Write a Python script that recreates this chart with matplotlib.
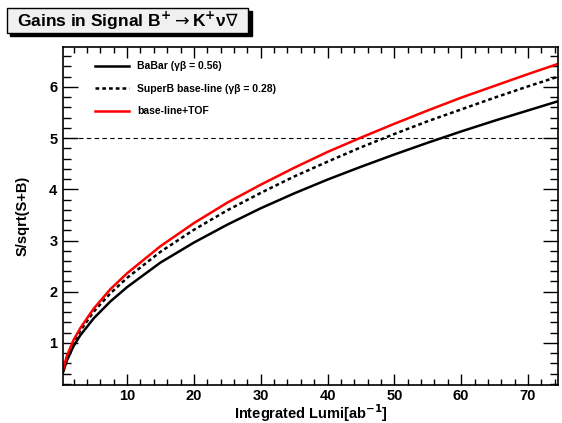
import matplotlib.pyplot as plt
from matplotlib.ticker import MultipleLocator
from matplotlib.patches import FancyBboxPatch

plt.rcParams['font.family'] = ['Liberation Sans', 'DejaVu Sans']

# Integrated luminosity points (ab^-1)
lumi = [0.4, 1, 2, 3, 5, 7.5, 10, 15, 20, 25, 30, 35, 40, 45, 50, 55, 60, 65, 70, 74.5]

babar = [0.42, 0.66, 0.94, 1.15, 1.48, 1.81, 2.09, 2.57, 2.96, 3.31,
         3.63, 3.92, 4.19, 4.44, 4.68, 4.91, 5.13, 5.34, 5.54, 5.72]
superb = [0.45, 0.72, 1.02, 1.24, 1.61, 1.97, 2.27, 2.78, 3.21, 3.59,
          3.93, 4.25, 4.54, 4.82, 5.08, 5.33, 5.56, 5.79, 6.01, 6.20]
tof = [0.47, 0.75, 1.06, 1.29, 1.67, 2.05, 2.36, 2.89, 3.34, 3.74,
       4.09, 4.42, 4.73, 5.01, 5.28, 5.54, 5.79, 6.02, 6.25, 6.45]

labels = ['BaBar (γβ = 0.56)',
          'SuperB base-line (γβ = 0.28)',
          'base-line+TOF']

fig = plt.figure(figsize=(5.62, 4.23), dpi=100)
ax = fig.add_axes([0.112, 0.090, 0.881, 0.799])

ax.axhline(5, color='black', lw=0.8, ls=(0, (4, 3)))
ax.plot(lumi, babar, color='black', lw=1.8, label=labels[0])
ax.plot(lumi, superb, color='black', lw=1.8, ls=(0, (1.5, 1.2)), label=labels[1])
ax.plot(lumi, tof, color='red', lw=1.8, label=labels[2])

ax.set_xlim(0.4, 74.5)
ax.set_ylim(0.18, 6.78)

ax.xaxis.set_major_locator(MultipleLocator(10))
ax.xaxis.set_minor_locator(MultipleLocator(2))
ax.yaxis.set_major_locator(MultipleLocator(1))
ax.yaxis.set_minor_locator(MultipleLocator(0.2))
ax.tick_params(which='both', direction='in', top=True, right=True, width=1)
ax.tick_params(axis='x', which='major', length=8, pad=3)
ax.tick_params(axis='x', which='minor', length=4)
ax.tick_params(axis='y', which='major', length=11, pad=4)
ax.tick_params(axis='y', which='minor', length=5.5)
for lab in ax.get_xticklabels() + ax.get_yticklabels():
    lab.set_fontweight('bold')
    lab.set_fontsize(10.5)
for s in ax.spines.values():
    s.set_linewidth(1.2)

ax.set_xlabel(r'Integrated Lumi[ab$^{\mathbf{-1}}$]', fontsize=10.5, fontweight='bold')
ax.xaxis.set_label_coords(0.5, -0.05)
ax.set_ylabel('S/sqrt(S+B)', fontsize=10.5, fontweight='bold')
ax.yaxis.set_label_coords(-0.068, 0.5)

leg = ax.legend(loc='upper left', bbox_to_anchor=(0.045, 0.985), frameon=False,
                prop={'weight': 'bold', 'size': 7.5}, handlelength=3.3,
                labelspacing=1.2, handletextpad=0.8)

# title box with shadow, ROOT style
shadow = FancyBboxPatch((0.018, 0.915), 0.43, 0.06, boxstyle='square,pad=0',
                        transform=fig.transFigure, facecolor='black',
                        edgecolor='black', zorder=1)
box = FancyBboxPatch((0.012, 0.922), 0.43, 0.06, boxstyle='square,pad=0',
                     transform=fig.transFigure, facecolor='#f0f0f0',
                     edgecolor='black', lw=1, zorder=2)
fig.patches.extend([shadow, box])
fig.text(0.227, 0.951,
         r'Gains in Signal B$^{\mathbf{+}}$$\rightarrow$K$^{\mathbf{+}}$ν$\mathrm{\nabla}$',
         ha='center', va='center', fontsize=12.5, fontweight='bold', zorder=3)

fig.savefig('out.png', dpi=100)
